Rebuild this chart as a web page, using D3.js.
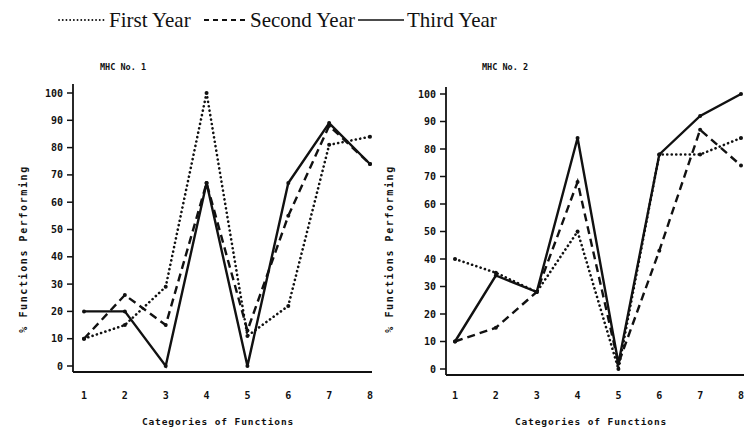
<!DOCTYPE html>
<html>
<head>
<meta charset="utf-8">
<script src="https://cdn.jsdelivr.net/npm/d3@7"></script>
<style>
  body { margin: 0; background: #fff; }
  svg { display: block; }
</style>
</head>
<body>
<div class="chart"></div>
<script>
// data ============================================= //
var categories = [1, 2, 3, 4, 5, 6, 7, 8];
var yTicks = [0, 10, 20, 30, 40, 50, 60, 70, 80, 90, 100];
var seriesNames = ["First Year", "Second Year", "Third Year"];

// MHC No. 1
var mhc1First = [10, 15, 29, 100, 11, 22, 81, 84];
var mhc1Second = [10, 26, 15, 67, 13, 55, 88, 74];
var mhc1Third = [20, 20, 0, 67, 0, 67, 89, 74];

// MHC No. 2
var mhc2First = [40, 35, 28, 50, 0, 78, 78, 84];
var mhc2Second = [10, 15, 28, 68, 2, 43, 87, 74];
var mhc2Third = [10, 34, 28, 84, 2, 78, 92, 100];

var styles = {
  "First Year": { dash: "0.1 4.4", width: 2.6, cap: "round" },
  "Second Year": { dash: "8 5", width: 2.4, cap: "butt" },
  "Third Year": { dash: null, width: 2.4, cap: "butt" }
};

var svg = d3
  .select(".chart")
  .append("svg")
  .attr("width", 744)
  .attr("height", 430);

var monoFont = "'DejaVu Sans Mono', monospace";

// legend
var legend = svg.append("g").attr("id", "legend");
var legendItems = [
  { name: "First Year", x1: 59, x2: 107, tx: 109 },
  { name: "Second Year", x1: 204, x2: 249, tx: 250 },
  { name: "Third Year", x1: 358, x2: 404, tx: 407 }
];
legendItems.forEach(function (d) {
  var st = styles[d.name];
  legend
    .append("line")
    .attr("x1", d.x1)
    .attr("x2", d.x2)
    .attr("y1", 20)
    .attr("y2", 20)
    .attr("stroke", "#111")
    .attr("stroke-width", d.name == "Third Year" ? 1.3 : 1.8)
    .attr("stroke-linecap", st.cap)
    .attr("stroke-dasharray", d.name == "First Year" ? "0.1 3.6" : d.name == "Second Year" ? "5 4" : null);
  legend
    .append("text")
    .attr("x", d.tx)
    .attr("y", 27)
    .attr("font-family", "'Liberation Serif', 'DejaVu Serif', serif")
    .attr("font-size", "21px")
    .attr("fill", "#111")
    .text(d.name);
});

function drawPanel(opts) {
  var g = svg.append("g").attr("id", opts.id);

  var x = d3.scaleLinear().domain([1, 8]).range(opts.xRange);
  var y = d3.scaleLinear().domain([0, 100]).range(opts.yRange);

  // title
  g.append("text")
    .attr("x", opts.titleX)
    .attr("y", 70)
    .attr("font-family", monoFont)
    .attr("font-weight", "bold")
    .attr("font-size", "8.5px")
    .attr("fill", "#111")
    .text(opts.title);

  // y axis
  g.append("line")
    .attr("x1", opts.axisX)
    .attr("x2", opts.axisX)
    .attr("y1", opts.axisTop)
    .attr("y2", opts.axisY)
    .attr("stroke", "#111")
    .attr("stroke-width", 1.8);

  g.selectAll(".ytick")
    .data(yTicks)
    .enter()
    .append("line")
    .attr("class", "ytick")
    .attr("x1", opts.axisX - 6)
    .attr("x2", opts.axisX)
    .attr("y1", function (d) { return y(d); })
    .attr("y2", function (d) { return y(d); })
    .attr("stroke", "#111")
    .attr("stroke-width", 1.5);

  g.selectAll(".ylabel")
    .data(yTicks)
    .enter()
    .append("text")
    .attr("class", "ylabel")
    .attr("x", opts.axisX - 10)
    .attr("y", function (d) { return y(d); })
    .attr("dy", "0.35em")
    .attr("text-anchor", "end")
    .attr("font-family", monoFont)
    .attr("font-weight", "bold")
    .attr("font-size", "10px")
    .attr("fill", "#111")
    .text(function (d) { return d; });

  // x axis
  g.append("line")
    .attr("x1", opts.axisX)
    .attr("x2", opts.axisEnd)
    .attr("y1", opts.axisY)
    .attr("y2", opts.axisY)
    .attr("stroke", "#111")
    .attr("stroke-width", 2);

  g.selectAll(".xlabel")
    .data(categories)
    .enter()
    .append("text")
    .attr("class", "xlabel")
    .attr("x", function (d) { return x(d); })
    .attr("y", 399)
    .attr("text-anchor", "middle")
    .attr("font-family", monoFont)
    .attr("font-weight", "bold")
    .attr("font-size", "10px")
    .attr("fill", "#111")
    .text(function (d) { return d; });

  // axis titles
  g.append("text")
    .attr("transform", "translate(" + opts.yTitleX + ",249) rotate(-90)")
    .attr("text-anchor", "middle")
    .attr("dy", "0.35em")
    .attr("font-family", monoFont)
    .attr("font-weight", "bold")
    .attr("font-size", "10px")
    .attr("letter-spacing", "1.6px")
    .attr("fill", "#111")
    .text("% Functions Performing");

  g.append("text")
    .attr("x", opts.xTitleX)
    .attr("y", 425)
    .attr("text-anchor", "middle")
    .attr("font-family", monoFont)
    .attr("font-weight", "bold")
    .attr("font-size", "9.5px")
    .attr("letter-spacing", "0.9px")
    .attr("fill", "#111")
    .text("Categories of Functions");

  // series
  var line = d3
    .line()
    .x(function (d, i) { return x(categories[i]); })
    .y(function (d) { return y(d); });

  seriesNames.forEach(function (name, k) {
    var vals = opts.series[k];
    var st = styles[name];
    g.append("path")
      .datum(vals)
      .attr("d", line)
      .attr("fill", "none")
      .attr("stroke", "#111")
      .attr("stroke-width", st.width)
      .attr("stroke-linecap", st.cap)
      .attr("stroke-linejoin", "miter")
      .attr("stroke-dasharray", st.dash);
    g.selectAll(".pt" + k)
      .data(vals)
      .enter()
      .append("circle")
      .attr("class", "pt" + k)
      .attr("cx", function (d, i) { return x(categories[i]); })
      .attr("cy", function (d) { return y(d); })
      .attr("r", 2)
      .attr("fill", "#111");
  });
}

drawPanel({
  id: "mhc1",
  title: "MHC No. 1",
  titleX: 100,
  xRange: [84, 370],
  yRange: [366, 93],
  axisX: 73,
  axisTop: 84,
  axisY: 372,
  axisEnd: 372,
  yTitleX: 23,
  xTitleX: 218,
  series: [mhc1First, mhc1Second, mhc1Third]
});

drawPanel({
  id: "mhc2",
  title: "MHC No. 2",
  titleX: 482,
  xRange: [455, 741],
  yRange: [369, 94],
  axisX: 446,
  axisTop: 87,
  axisY: 375,
  axisEnd: 744,
  yTitleX: 389,
  xTitleX: 591,
  series: [mhc2First, mhc2Second, mhc2Third]
});
</script>
</body>
</html>
